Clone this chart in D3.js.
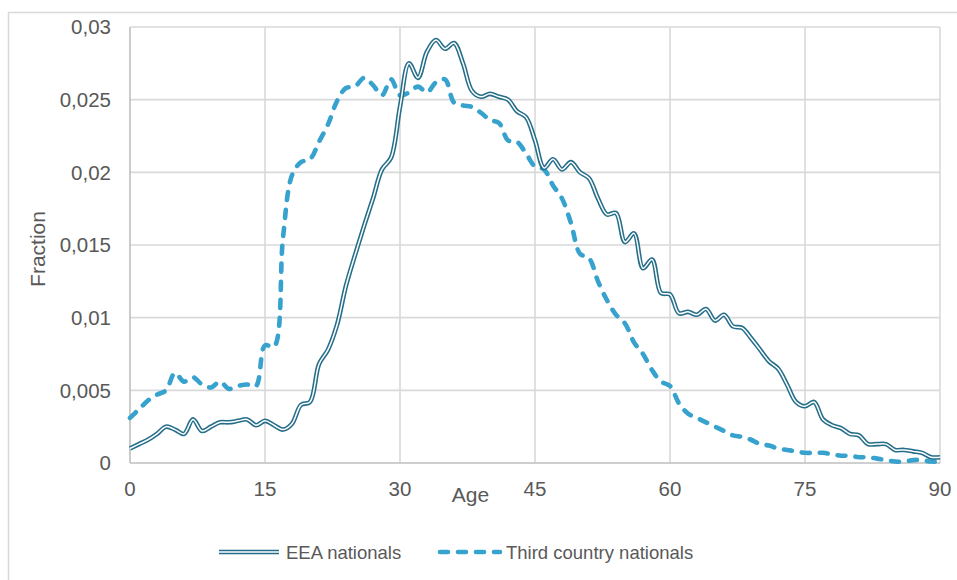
<!DOCTYPE html>
<html>
<head>
<meta charset="utf-8">
<script src="https://cdn.jsdelivr.net/npm/d3@7"></script>
<style>
  html, body { margin: 0; padding: 0; background: #fff; }
  svg { display: block; font-family: "Liberation Sans", Arial, sans-serif; }
</style>
</head>
<body>
<svg id="chart" width="957" height="580"></svg>
<script>
const ages = d3.range(0, 91);
const eea = [
  0.0010, 0.0013, 0.0016, 0.0020, 0.0025, 0.0023, 0.0020, 0.0030, 0.0022, 0.0025,
  0.0028, 0.0028, 0.0029, 0.0030, 0.0026, 0.0029, 0.0026, 0.0023, 0.0027, 0.0040,
  0.0042, 0.0068, 0.0078, 0.0095, 0.0122, 0.0143, 0.0163, 0.0182, 0.0202, 0.0210,
  0.0245, 0.0275, 0.0265, 0.0283, 0.0291, 0.0285, 0.0289, 0.0275, 0.0256, 0.0252,
  0.0254, 0.0252, 0.0250, 0.0242, 0.0238, 0.0222, 0.0203, 0.0209, 0.0202, 0.0207,
  0.0200, 0.0196, 0.0182, 0.0171, 0.0172, 0.0152, 0.0158, 0.0134, 0.0140, 0.0117,
  0.0116, 0.0103, 0.0104, 0.0102, 0.0106, 0.0098, 0.0102, 0.0094, 0.0093, 0.0086,
  0.0078, 0.0070, 0.0065, 0.0054, 0.0042, 0.0039, 0.0042, 0.0030, 0.0026, 0.0024,
  0.0020, 0.0019, 0.0013, 0.0013, 0.0013, 0.0009, 0.0009, 0.0008, 0.0007, 0.0004,
  0.0004
];
const thirdCountry = [
  0.0031, 0.0037, 0.0043, 0.0047, 0.0050, 0.0062, 0.0056, 0.0059, 0.0054, 0.0052,
  0.0056, 0.0051, 0.0053, 0.0054, 0.0053, 0.0081, 0.0080, 0.0155, 0.0198, 0.0207,
  0.0209, 0.0221, 0.0233, 0.0249, 0.0258, 0.0259, 0.0265, 0.0260, 0.0253, 0.0264,
  0.0253, 0.0255, 0.0259, 0.0255, 0.0262, 0.0264, 0.0248, 0.0246, 0.0245, 0.0241,
  0.0236, 0.0234, 0.0222, 0.0221, 0.0213, 0.0204, 0.0202, 0.0191, 0.0182, 0.0165,
  0.0144, 0.0141, 0.0125, 0.0112, 0.0102, 0.0096, 0.0083, 0.0075, 0.0064, 0.0056,
  0.0053, 0.0041, 0.0034, 0.0031, 0.0028, 0.0025, 0.0022, 0.0019, 0.0018, 0.0016,
  0.0013, 0.0012, 0.0010, 0.0009, 0.0008, 0.0007, 0.0007, 0.0007, 0.0006, 0.0005,
  0.0005, 0.0004, 0.0004, 0.0003, 0.0002, 0.0001, 0.0001, 0.0002, 0.0002, 0.0001,
  0.0001
];
const xTicks = [0, 15, 30, 45, 60, 75, 90];
const yTicks = [0, 0.005, 0.01, 0.015, 0.02, 0.025, 0.03];
const yTickLabels = ["0", "0,005", "0,01", "0,015", "0,02", "0,025", "0,03"];
const seriesNames = ["EEA nationals", "Third country nationals"];
const xTitle = "Age";
const yTitle = "Fraction";

const svg = d3.select("#chart");
const textColor = "#595959";
const eeaColor = "#256e8a";
const tcnColor = "#36a2cd";

// outer frame
svg.append("rect")
  .attr("x", 8.5).attr("y", 12.5)
  .attr("width", 1000).attr("height", 1000)
  .attr("fill", "none").attr("stroke", "#d9d9d9").attr("stroke-width", 1.5);

const x = d3.scaleLinear().domain([0, 90]).range([130, 940]);
const y = d3.scaleLinear().domain([0, 0.03]).range([463, 27]);

const grid = svg.append("g");
// horizontal grid
grid.selectAll("line.h").data(yTicks.filter(d => d > 0)).join("line")
  .attr("x1", x(0)).attr("x2", x(90))
  .attr("y1", d => y(d)).attr("y2", d => y(d))
  .attr("stroke", "#d9d9d9").attr("stroke-width", 1.6);
// vertical grid
grid.selectAll("line.v").data(xTicks.filter(d => d > 0)).join("line")
  .attr("x1", d => x(d)).attr("x2", d => x(d))
  .attr("y1", y(0)).attr("y2", y(0.03))
  .attr("stroke", "#d9d9d9").attr("stroke-width", 1.6);
// axis lines
svg.append("line").attr("x1", x(0)).attr("x2", x(90)).attr("y1", y(0)).attr("y2", y(0))
  .attr("stroke", "#bfbfbf").attr("stroke-width", 1.6);
svg.append("line").attr("x1", x(0)).attr("x2", x(0)).attr("y1", y(0)).attr("y2", y(0.03))
  .attr("stroke", "#bfbfbf").attr("stroke-width", 1.6);

// y tick labels
svg.append("g").selectAll("text").data(yTicks).join("text")
  .attr("x", 111).attr("y", d => y(d)).attr("dy", "0.36em")
  .attr("text-anchor", "end").attr("fill", textColor).attr("font-size", 20.5)
  .text((d, i) => yTickLabels[i]);
// x tick labels
svg.append("g").selectAll("text").data(xTicks).join("text")
  .attr("x", d => x(d)).attr("y", 496)
  .attr("text-anchor", "middle").attr("fill", textColor).attr("font-size", 20.5)
  .text(d => d);

// axis titles
svg.append("text").attr("x", 470.5).attr("y", 501.5).attr("text-anchor", "middle")
  .attr("fill", textColor).attr("font-size", 21).text(xTitle);
svg.append("text").attr("transform", "translate(45,249) rotate(-90)")
  .attr("text-anchor", "middle").attr("fill", textColor).attr("font-size", 21).text(yTitle);

const line = d3.line().x((d, i) => x(ages[i])).y(d => y(d)).curve(d3.curveCatmullRom);

// Third country (dashed)
svg.append("path").datum(thirdCountry).attr("d", line)
  .attr("fill", "none").attr("stroke", tcnColor).attr("stroke-width", 4.6)
  .attr("stroke-linecap", "round").attr("stroke-dasharray", "8,10");

// EEA (double line)
svg.append("path").datum(eea).attr("d", line)
  .attr("fill", "none").attr("stroke", eeaColor).attr("stroke-width", 4.6);
svg.append("path").datum(eea).attr("d", line)
  .attr("fill", "none").attr("stroke", "#fff").attr("stroke-width", 1.5);

// legend
const lg = svg.append("g");
const ly = 552;
lg.append("line").attr("x1", 219).attr("x2", 279).attr("y1", ly).attr("y2", ly)
  .attr("stroke", eeaColor).attr("stroke-width", 4.6);
lg.append("line").attr("x1", 219).attr("x2", 279).attr("y1", ly).attr("y2", ly)
  .attr("stroke", "#fff").attr("stroke-width", 1.5);
lg.append("text").attr("x", 286).attr("y", ly).attr("dy", "0.36em")
  .attr("fill", textColor).attr("font-size", 18.5).text(seriesNames[0]);
lg.append("line").attr("x1", 440).attr("x2", 500).attr("y1", ly).attr("y2", ly)
  .attr("stroke", tcnColor).attr("stroke-width", 4.6)
  .attr("stroke-linecap", "round").attr("stroke-dasharray", "8,10");
lg.append("text").attr("x", 506).attr("y", ly).attr("dy", "0.36em")
  .attr("fill", textColor).attr("font-size", 18.5).text(seriesNames[1]);
</script>
</body>
</html>
